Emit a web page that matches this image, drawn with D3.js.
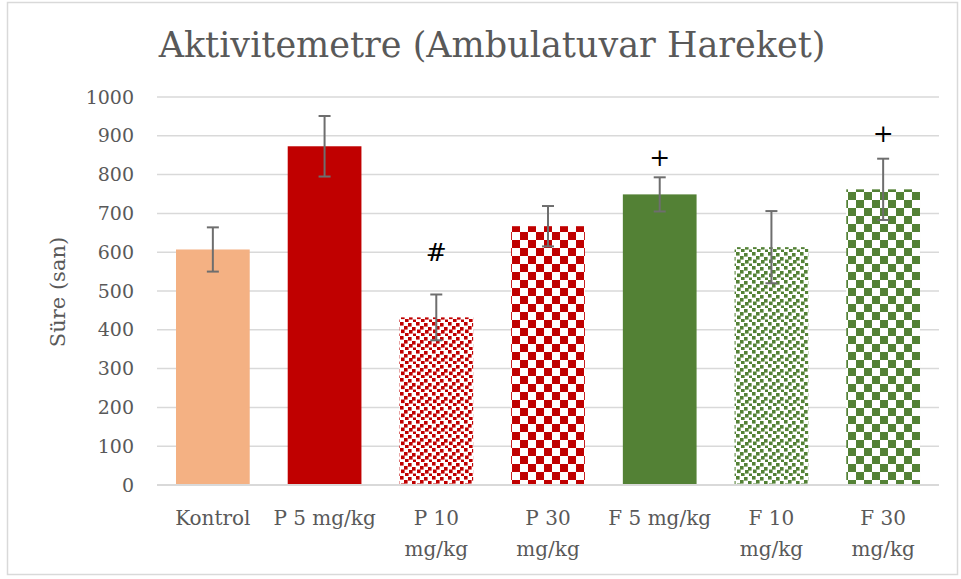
<!DOCTYPE html>
<html>
<head>
<meta charset="utf-8">
<script src="https://cdn.jsdelivr.net/npm/d3@7"></script>
<style>
  body { margin: 0; background: #fff; }
  text { font-family: "DejaVu Serif", "Liberation Serif", serif; }
</style>
</head>
<body>
<script>
// chart values
var groups = ["Kontrol", "P 5 mg/kg", "P 10 mg/kg", "P 30 mg/kg", "F 5 mg/kg", "F 10 mg/kg", "F 30 mg/kg"];
var labels = [["Kontrol"], ["P 5 mg/kg"], ["P 10", "mg/kg"], ["P 30", "mg/kg"], ["F 5 mg/kg"], ["F 10", "mg/kg"], ["F 30", "mg/kg"]];
var means = [607, 873, 432, 667, 749, 613, 762];
var errs = [57, 78, 59, 52, 44, 93, 79];
var marks = ["", "", "#", "", "+", "", "+"];
var markAt = [0, 0, 600, 0, 845, 0, 907];
var fills = ["solid-o", "solid-r", "dot-r", "chk-r", "solid-g", "dot-g", "chk-g"];
var yTicks = [0, 100, 200, 300, 400, 500, 600, 700, 800, 900, 1000];

var W = 961, H = 579;
var svg = d3.select("body").append("svg").attr("width", W).attr("height", H);

// outer border
svg.append("rect").attr("x", 7.5).attr("y", 2.5).attr("width", 950).attr("height", 572)
    .attr("fill", "#fff").attr("stroke", "#d9d9d9").attr("stroke-width", 1.5);

var red = "#c00000", green = "#538135";
var defs = svg.append("defs");
function checker(id, col) {
    var p = defs.append("pattern").attr("id", id).attr("patternUnits", "userSpaceOnUse")
        .attr("width", 16).attr("height", 16).attr("x", 0).attr("y", 0);
    p.append("rect").attr("width", 16).attr("height", 16).attr("fill", "#fff");
    p.append("rect").attr("x", 0).attr("y", 0).attr("width", 8).attr("height", 8).attr("fill", col);
    p.append("rect").attr("x", 8).attr("y", 8).attr("width", 8).attr("height", 8).attr("fill", col);
}
// confetti-like tile
var confetti = [[0, 0], [8, 1], [4, 4], [12, 5], [1, 7.5], [9, 8], [5, 11], [13, 11.5]];
function dots(id, col) {
    var p = defs.append("pattern").attr("id", id).attr("patternUnits", "userSpaceOnUse")
        .attr("width", 16).attr("height", 14);
    p.append("rect").attr("width", 16).attr("height", 14).attr("fill", "#fff");
    confetti.forEach(function (c) {
        p.append("rect").attr("x", c[0]).attr("y", c[1]).attr("width", 3.6).attr("height", 3.6).attr("fill", col);
    });
}
checker("chk-r", red); checker("chk-g", green);
dots("dot-r", red); dots("dot-g", green);
var solid = { "solid-o": "#f4b183", "solid-r": red, "solid-g": green };
function fillOf(f) { return solid[f] || "url(#" + f + ")"; }

var x = d3.scaleBand().domain(groups).range([157, 939]).paddingInner(0.34).paddingOuter(0.17);
var y = d3.scaleLinear().domain([0, 1000]).range([485, 97]);

// grid
svg.append("g").selectAll("line").data(yTicks).join("line")
    .attr("x1", 157).attr("x2", 939)
    .attr("y1", d => y(d)).attr("y2", d => y(d))
    .attr("stroke", "#d9d9d9").attr("stroke-width", 1.5);

// y labels
var yAxis = d3.axisLeft(y).tickValues(yTicks).tickFormat(d3.format("d")).tickSize(0).tickPadding(0);
var ya = svg.append("g").attr("transform", "translate(134,0)").call(yAxis);
ya.select(".domain").remove();
ya.selectAll("text").attr("fill", "#595959").style("font-size", "19px")
    .style("font-family", "DejaVu Serif, serif");

// bars
svg.append("g").selectAll("rect").data(groups).join("rect")
    .attr("x", d => x(d)).attr("width", x.bandwidth())
    .attr("y", (d, i) => y(means[i])).attr("height", (d, i) => y(0) - y(means[i]))
    .attr("fill", (d, i) => fillOf(fills[i]));

// x axis line
svg.append("line").attr("x1", 157).attr("x2", 939).attr("y1", y(0)).attr("y2", y(0))
    .attr("stroke", "#d9d9d9").attr("stroke-width", 2);

// error bars
var eb = svg.append("g").attr("stroke", "#6e6e6e").attr("stroke-width", 2);
groups.forEach(function (g, i) {
    var cx = x(g) + x.bandwidth() / 2;
    var hi = y(means[i] + errs[i]), lo = y(means[i] - errs[i]);
    eb.append("line").attr("x1", cx).attr("x2", cx).attr("y1", hi).attr("y2", lo);
    eb.append("line").attr("x1", cx - 6).attr("x2", cx + 6).attr("y1", hi).attr("y2", hi);
    eb.append("line").attr("x1", cx - 6).attr("x2", cx + 6).attr("y1", lo).attr("y2", lo);
    if (marks[i]) {
        svg.append("text").attr("x", cx).attr("y", y(markAt[i])).attr("text-anchor", "middle")
            .attr("dominant-baseline", "central")
            .attr("fill", "#000").style("font-size", "25px").text(marks[i]);
    }
});

// category labels
var xl = svg.append("g");
groups.forEach(function (g, i) {
    var t = xl.append("text").attr("text-anchor", "middle").attr("fill", "#595959")
        .style("font-size", "20px").attr("x", x(g) + x.bandwidth() / 2).attr("y", 525);
    labels[i].forEach(function (s, k) {
        t.append("tspan").attr("x", x(g) + x.bandwidth() / 2).attr("dy", k ? 31 : 0).text(s);
    });
});

// y title
svg.append("text").attr("transform", "translate(65,292) rotate(-90)").attr("text-anchor", "middle")
    .attr("fill", "#595959").style("font-size", "21px").text("Süre (san)");

// title
svg.append("text").attr("x", 492).attr("y", 57).attr("text-anchor", "middle")
    .attr("fill", "#595959").style("font-size", "35px").text("Aktivitemetre (Ambulatuvar Hareket)");
</script>
</body>
</html>
